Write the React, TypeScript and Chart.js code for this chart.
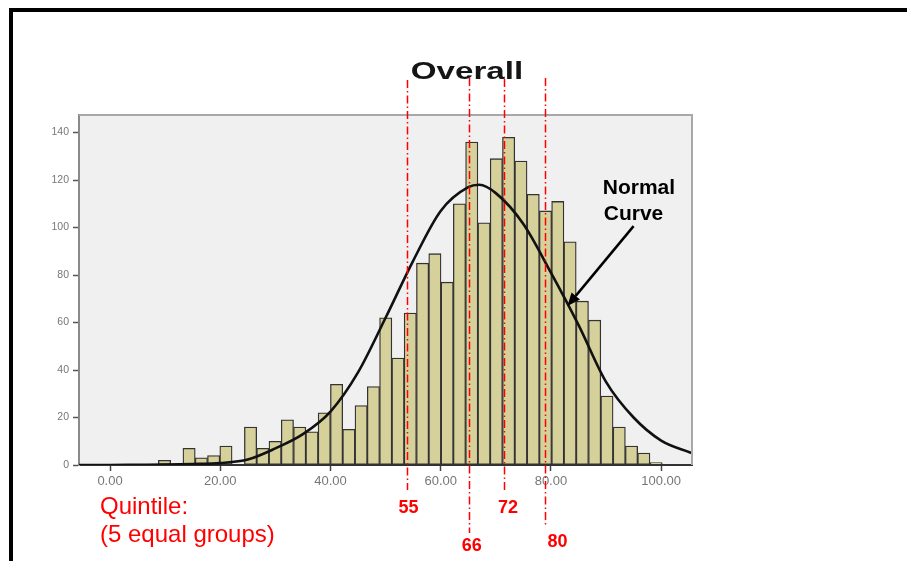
import React, { useEffect, useRef } from "react";
import { Chart, registerables } from "chart.js";

Chart.register(...registerables);

// ---- data ----
const binStart = 8.77;
const binWidth = 2.23;
const counts = [
  2, 0, 7, 3, 4, 8, 0, 16, 7, 10, 19, 16, 14, 22, 34, 15, 25, 33, 62, 45, 64,
  85, 89, 77, 110, 136, 102, 129, 138, 128, 114, 107, 111, 94, 69, 61, 29, 16, 8, 5, 1,
];
const curveX = [-5.63, 0, 5, 10, 15, 20, 25, 30, 35, 40, 45, 50, 55, 60, 65, 67, 70, 75, 80, 85, 90, 95, 100, 105.6];
const curveY = [0, 0, 0.1, 0.2, 0.4, 0.8, 2.3, 7, 13, 22.5, 39, 62, 86, 107, 117, 118, 114.5, 101.5, 81, 59, 35, 20, 10.3, 5];
const xTicks = [0, 20, 40, 60, 80, 100];
const yTicks = [0, 20, 40, 60, 80, 100, 120, 140];
const quintileLabels = ["55", "66", "72", "80"];
const quintileAt = [53.8, 65.1, 71.5, 79.0];
const titleText = "Overall";

const FONT = "'Liberation Sans', Arial, Helvetica, sans-serif";

const decor = {
  id: "decor",
  beforeDraw(chart: any) {
    const { ctx, chartArea: a } = chart;
    ctx.save();
    ctx.fillStyle = "#ffffff";
    ctx.fillRect(0, 0, chart.width, chart.height);
    ctx.fillStyle = "#f0f0f0";
    ctx.fillRect(a.left, a.top, a.right - a.left, a.bottom - a.top);
    ctx.restore();
  },
  afterDatasetsDraw(chart: any) {
    const { ctx, chartArea: a } = chart;
    ctx.save();
    ctx.strokeStyle = "#a8a8a8";
    ctx.lineWidth = 2;
    ctx.beginPath();
    ctx.moveTo(a.left, a.top);
    ctx.lineTo(a.right, a.top);
    ctx.lineTo(a.right, a.bottom);
    ctx.stroke();
    ctx.restore();
  },
  afterDraw(chart: any) {
    const { ctx } = chart;
    const xs = chart.scales.x;
    const ys = chart.scales.y;
    ctx.save();
    // outer black frame
    ctx.fillStyle = "#000";
    ctx.fillRect(9, 8, chart.width - 9, 4);
    ctx.fillRect(9, 8, 4, chart.height - 8);

    // title
    ctx.save();
    ctx.font = `bold 23px ${FONT}`;
    ctx.fillStyle = "#151515";
    ctx.textAlign = "center";
    ctx.textBaseline = "alphabetic";
    ctx.translate(467, 78.5);
    ctx.scale(1.44, 1);
    ctx.fillText(titleText, 0, 0);
    ctx.restore();

    // quintile lines
    const bottoms = [490, 533, 492, 525];
    const tops = [80, 78, 79, 78];
    const labelDx = [2, 3, 4, 12];
    const labelY = [508, 546, 508, 542];
    ctx.strokeStyle = "#ff0000";
    ctx.lineWidth = 1.5;
    ctx.setLineDash([8, 3, 1.5, 3]);
    quintileAt.forEach((v, i) => {
      const px = Math.round(xs.getPixelForValue(v)) + 0.5;
      ctx.beginPath();
      ctx.moveTo(px, tops[i]);
      ctx.lineTo(px, bottoms[i]);
      ctx.stroke();
    });
    ctx.setLineDash([]);
    ctx.fillStyle = "#ff0000";
    ctx.font = `bold 18px ${FONT}`;
    ctx.textAlign = "center";
    ctx.textBaseline = "middle";
    quintileAt.forEach((v, i) => {
      const px = xs.getPixelForValue(v) + labelDx[i];
      ctx.fillText(quintileLabels[i], px, labelY[i]);
    });

    // Quintile caption
    ctx.font = `24px ${FONT}`;
    ctx.textAlign = "left";
    ctx.fillText("Quintile:", 100, 507);
    ctx.fillText("(5 equal groups)", 100, 535);

    // Normal curve annotation
    ctx.fillStyle = "#000";
    ctx.font = `bold 21px ${FONT}`;
    ctx.textBaseline = "alphabetic";
    const tx = xs.getPixelForValue(89.4);
    ctx.fillText("Normal", tx, ys.getPixelForValue(114));
    ctx.fillText("Curve", tx + 1, ys.getPixelForValue(103.2));

    // arrow
    const x1 = xs.getPixelForValue(95);
    const y1 = ys.getPixelForValue(100.6);
    const x2 = xs.getPixelForValue(83.0);
    const y2 = ys.getPixelForValue(67);
    const ang = Math.atan2(y2 - y1, x2 - x1);
    const headLen = 13;
    const headW = 5.5;
    const bx = x2 - headLen * Math.cos(ang);
    const by = y2 - headLen * Math.sin(ang);
    ctx.strokeStyle = "#000";
    ctx.lineWidth = 2.5;
    ctx.beginPath();
    ctx.moveTo(x1, y1);
    ctx.lineTo(bx, by);
    ctx.stroke();
    ctx.beginPath();
    ctx.moveTo(x2, y2);
    ctx.lineTo(bx + headW * Math.sin(ang), by - headW * Math.cos(ang));
    ctx.lineTo(bx - headW * Math.sin(ang), by + headW * Math.cos(ang));
    ctx.closePath();
    ctx.fill();
    ctx.restore();
  },
};

export default function App() {
  const ref = useRef<HTMLCanvasElement | null>(null);

  useEffect(() => {
    if (!ref.current) return;
    const barData = counts.map((c, i) => ({ x: binStart + binWidth * (i + 0.5), y: c }));
    const lineData = curveX.map((x, i) => ({ x, y: curveY[i] }));
    const chart = new Chart(ref.current, {
      type: "bar",
      data: {
        datasets: [
          {
            type: "line",
            label: "Normal",
            data: lineData,
            borderColor: "#111",
            borderWidth: 2.6,
            pointRadius: 0,
            fill: false,
            cubicInterpolationMode: "monotone",
            order: 0,
          } as any,
          {
            type: "bar",
            label: "Overall",
            data: barData,
            backgroundColor: "#d6d09a",
            borderColor: "#333333",
            borderWidth: 1.3,
            borderSkipped: false,
            barPercentage: 1,
            categoryPercentage: 1,
            order: 1,
          } as any,
        ],
      },
      options: {
        animation: false,
        responsive: false,
        maintainAspectRatio: false,
        layout: { padding: { top: 115, right: 215, left: 0, bottom: 0 } },
        plugins: {
          legend: { display: false },
          tooltip: { enabled: false },
          title: { display: false },
        },
        scales: {
          x: {
            type: "linear",
            min: -5.63,
            max: 105.6,
            offset: false,
            afterFit: (s: any) => {
              s.height = 96;
            },
            afterBuildTicks: (s: any) => {
              s.ticks = xTicks.map((v) => ({ value: v }));
            },
            grid: {
              offset: false,
              drawOnChartArea: false,
              tickLength: 6,
              tickColor: "#444",
              tickWidth: 1.5,
            },
            border: { display: true, color: "#333", width: 2 },
            ticks: {
              color: "#777",
              font: { family: FONT, size: 13 },
              padding: 3,
              maxRotation: 0,
              autoSkip: false,
              callback: (v: any) => Number(v).toFixed(2),
            },
          },
          y: {
            type: "linear",
            min: 0,
            max: 147.4,
            afterFit: (s: any) => {
              s.width = 79;
            },
            afterBuildTicks: (s: any) => {
              s.ticks = yTicks.map((v) => ({ value: v }));
            },
            grid: {
              drawOnChartArea: false,
              tickLength: 6,
              tickColor: "#555",
              tickWidth: 1.5,
            },
            border: { display: true, color: "#8a8a8a", width: 2 },
            ticks: {
              color: "#777",
              font: { family: FONT, size: 10.5 },
              padding: 4,
              autoSkip: false,
            },
          },
        },
      } as any,
      plugins: [decor],
    });
    return () => chart.destroy();
  }, []);

  return (
    <div style={{ position: "fixed", left: 0, top: 0, width: 907, height: 561, background: "#fff" }}>
      <canvas ref={ref} width={907} height={561} style={{ display: "block", width: 907, height: 561 }} />
    </div>
  );
}
